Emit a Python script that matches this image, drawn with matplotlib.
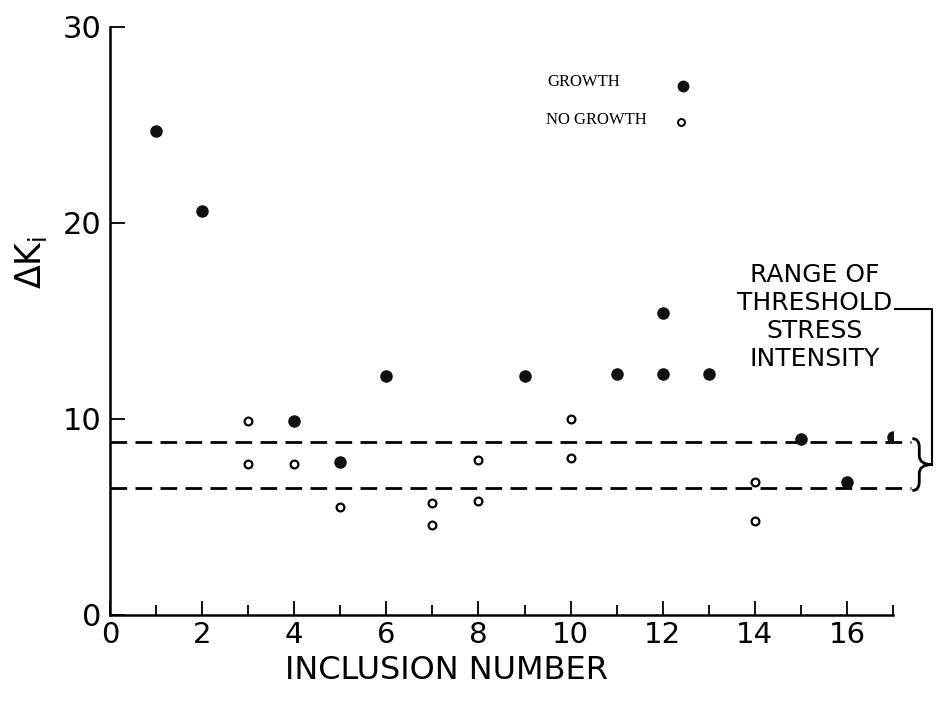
import matplotlib
matplotlib.use("Agg")
import matplotlib.pyplot as plt
from matplotlib.path import Path
from matplotlib.patches import PathPatch
from matplotlib.lines import Line2D

plt.rcParams['font.family'] = ['DejaVu Sans']
plt.rcParams['mathtext.fontset'] = 'dejavusans'

# inclusions where the crack grew
growth_x = [1, 2, 4, 5, 6, 9, 11, 12, 12, 13, 15, 16, 17]
growth_dk = [24.7, 20.6, 9.9, 7.8, 12.2, 12.2, 12.3, 15.4, 12.3, 12.3, 9.0, 6.8, 9.1]

# inclusions with no growth
nogrowth_x = [3, 3, 4, 5, 7, 7, 8, 8, 10, 10, 14, 14]
nogrowth_dk = [9.9, 7.7, 7.7, 5.5, 5.7, 4.6, 7.9, 5.8, 10.0, 8.0, 6.8, 4.8]

# threshold band
band_low = 6.5
band_high = 8.85
band_x = [0, 17.4]

xticks = [0, 2, 4, 6, 8, 10, 12, 14, 16]
xminor = [1, 3, 5, 7, 9, 11, 13, 15, 17]
yticks = [0, 10, 20, 30]

fig = plt.figure(figsize=(9.41, 7.03), dpi=100)
ax = fig.add_axes([110 / 941, 88 / 703, 783 / 941, 588 / 703])

ax.plot(growth_x, growth_dk, 'o', color='#111111', ms=8, mec='#111111', zorder=3)
ax.plot(nogrowth_x, nogrowth_dk, 'o', color='black', ms=5.6, mfc='white',
        mew=1.6, zorder=3)

for yv in (band_high, band_low):
    ax.plot(band_x, [yv, yv], color='black', lw=2, ls=(0, (6, 3)), clip_on=False)

# brace + leader to the label
bx0, bw, r = 17.42, 0.43, 0.45
xm = bx0 + bw * 0.35
ymid = (band_low + band_high) / 2
yt, yb = band_high + 0.15, band_low - 0.15
verts = [(bx0, yt), (xm, yt), (xm, yt - r), (xm, ymid + r), (xm, ymid), (bx0 + bw, ymid),
         (xm, ymid), (xm, ymid - r), (xm, yb + r), (xm, yb), (bx0, yb)]
codes = [Path.MOVETO, Path.CURVE3, Path.CURVE3, Path.LINETO, Path.CURVE3, Path.CURVE3,
         Path.CURVE3, Path.CURVE3, Path.LINETO, Path.CURVE3, Path.CURVE3]
ax.add_patch(PathPatch(Path(verts, codes), fill=False, lw=2, ec='black', clip_on=False))
ax.plot([17.05, bx0 + bw, bx0 + bw], [15.6, 15.6, ymid], color='black', lw=1.5,
        clip_on=False)

ax.text(15.3, 15.2, 'RANGE OF\nTHRESHOLD\nSTRESS\nINTENSITY', ha='center', va='center',
        fontsize=18, linespacing=1.2, multialignment='center')

ax.set_xlim(0, 17)
ax.set_ylim(0, 30)
ax.spines['top'].set_visible(False)
ax.spines['right'].set_visible(False)
for s in ('left', 'bottom'):
    ax.spines[s].set_linewidth(1.8)

ax.set_xticks(xticks)
ax.set_xticks(xminor, minor=True)
ax.set_yticks(yticks)
ax.tick_params(axis='x', which='major', direction='in', length=10, width=1.3,
               labelsize=21, pad=4)
ax.tick_params(axis='x', which='minor', direction='in', length=7, width=1.3)
ax.tick_params(axis='y', direction='in', length=11, width=1.3, labelsize=22, pad=6)

ax.set_xlabel('INCLUSION NUMBER', fontsize=23)
ax.xaxis.set_label_coords(0.43, -0.068)
ax.set_ylabel(r'$\Delta\mathrm{K}_\mathrm{i}$', fontsize=25)
ax.yaxis.set_label_coords(-0.078, 0.6)

# key, upper middle
serif = ['Liberation Serif', 'DejaVu Serif']
fig.text(547 / 941, 1 - 82 / 703, 'GROWTH', family=serif, fontsize=12, va='center')
fig.text(546 / 941, 1 - 120 / 703, 'NO GROWTH', family=serif, fontsize=12, va='center')
fig.add_artist(Line2D([683 / 941], [1 - 86 / 703], transform=fig.transFigure, marker='o',
                      ms=7.5, color='#111111', ls='none'))
fig.add_artist(Line2D([681 / 941], [1 - 122 / 703], transform=fig.transFigure, marker='o',
                      ms=5, mfc='white', mec='black', mew=1.4, ls='none'))

fig.savefig('out.png', dpi=100)
